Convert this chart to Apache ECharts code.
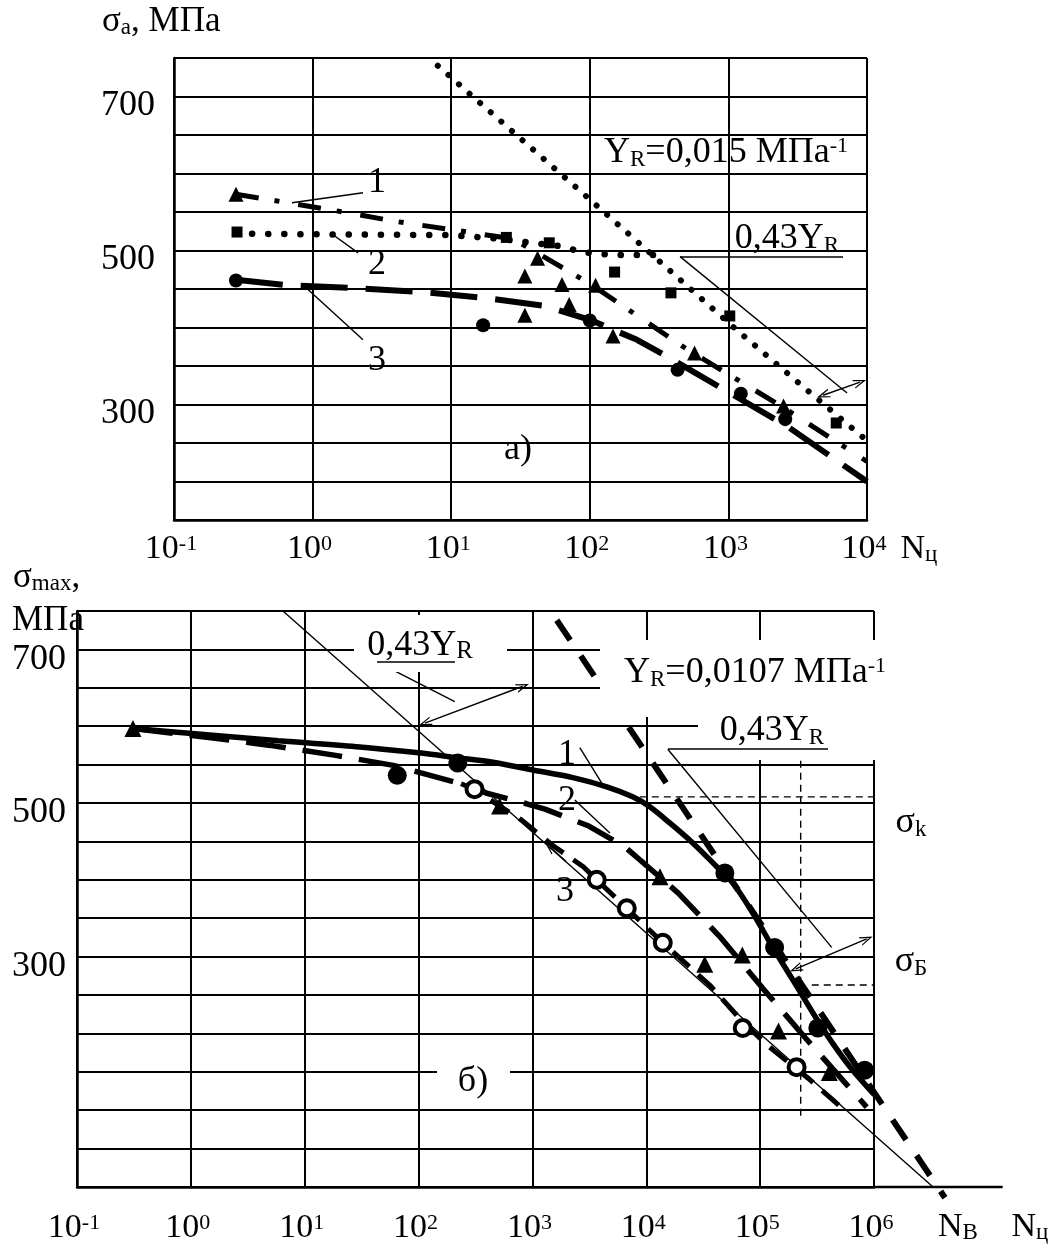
<!DOCTYPE html>
<html>
<head>
<meta charset="utf-8">
<script src="https://cdn.jsdelivr.net/npm/echarts@6/dist/echarts.min.js"></script>
<style>
  html, body { margin: 0; padding: 0; background: #fff; }
  #chart { width: 1058px; height: 1249px; }
</style>
</head>
<body>
<div id="chart"></div>
<script>
// Две панели: а) σa – Nц (до 10^4), б) σmax – Nц (до 10^6). Обе оси X логарифмические.
const FONT = '"Liberation Serif", "Times New Roman", serif';

// ---- панель а) ----
const aYLabels = [700, 500, 300];
const aTriangles = [[0.28, 573], [34, 467], [42, 490], [63, 456], [71, 430], [34, 416], [110, 455], [147, 389], [570, 367], [2500, 298]];
const aSquares = [[0.285, 524], [25, 517], [51, 510], [151, 472], [385, 445], [1023, 415], [6000, 276]];
const aCircles = [[0.28, 461], [17, 403], [100, 409], [430, 345], [1230, 314], [2570, 281]];
const aCurve1 = [[0.28, 573], [1.34, 553], [3.9, 538], [11, 526], [28, 515], [100, 457], [500, 372], [2500, 296], [10000, 226]];
const aCurve2 = [[0.28, 522], [1, 521], [10, 520], [23, 515], [38, 510], [66, 505], [85, 498], [150, 494], [290, 494]];
const aCurve3 = [[0.28, 462], [0.65, 455], [2.06, 451], [6.2, 446], [18.4, 438], [47.5, 428], [100, 410], [219, 384], [398, 358], [1023, 315], [2690, 271], [10000, 200]];
const aLineYR = [[8, 740], [105, 563], [1080, 401], [3570, 321], [10000, 253]];
const aLeaders = [
  [[2.31, 575], [0.71, 562]],
  [[2.13, 497], [1.34, 523]],
  [[0.93, 449], [2.31, 384]],
  [[448, 492], [7180, 315]]
];
const aArcs = [[[4820, 312], [8910, 329]]];

// ---- панель б) ----
const bYLabels = [700, 500, 300];
const bDots = [[65, 536], [221, 552], [49000, 409], [134000, 312], [321000, 207], [828000, 152]];
const bTriangles = [[0.31, 597], [515, 496], [13200, 404], [32600, 290], [69700, 302], [145000, 203], [405000, 149]];
const bRings = [[310, 518], [3670, 400], [6740, 363], [13960, 318], [70300, 207], [209000, 156]];
const bCurve1 = [[0.31, 597], [5.9, 581], [30.5, 573], [105, 565], [217, 559], [449, 553], [1008, 543], [2266, 533], [4500, 521], [7600, 508], [10740, 495], [16070, 474], [25600, 448], [41600, 417], [57400, 396], [86000, 357], [129000, 312], [193000, 270], [290000, 227], [434000, 187], [650000, 152], [1010000, 120]];
const bCurve2 = [[0.31, 597], [1.5, 585], [5, 575], [18.7, 562], [60, 549], [236, 525], [390, 513], [890, 499], [1290, 492], [3130, 470], [6470, 443], [19000, 383], [45500, 324], [105000, 259], [250000, 194], [863000, 104]];
const bCurve3 = [[236, 525], [310, 518], [515, 496], [800, 478], [1500, 445], [2800, 417], [3670, 400], [6740, 363], [13960, 318], [36000, 263], [70300, 215], [117000, 184], [262000, 142], [550000, 100]];
// линии, уходящие за 10^6 (до Nв), рисуются на вспомогательной сетке
const bLineYR = [[1637, 738], [4200000, -14]];
const bLine043 = [[6.44, 750], [3300000, 0]];
const bAxisExt = [[1000000, 0], [13500000, 0]];
const bSigmaK = [[8770, 508], [1000000, 508]];
const bSigmaB = [[284000, 263], [1000000, 263]];
const bVertical = [[227000, 555], [227000, 90]];
const bLeaders = [
  [[44, 683], [208, 632]],
  [[15450, 570], [425000, 312]],
  [[2606, 572], [4064, 526]],
  [[2355, 504], [4790, 461]]
];
const bArcs = [[[113.5, 604], [824, 652]], [[205600, 284], [863000, 323]]];
const bArrow3 = [[1963, 424], [1422, 443]];

const ARROW = 'path://M0,10 L5,0 L10,10 L8.6,10 L5,3 L1.4,10 Z';

const RICH = {
  sub: { fontSize: 23, fontFamily: FONT, fill: '#000', color: '#000', verticalAlign: 'bottom', lineHeight: 18 },
  sup: { fontSize: 22, fontFamily: FONT, fill: '#000', color: '#000', verticalAlign: 'top', lineHeight: 14 },
  sm: { fontSize: 25, fontFamily: FONT, fill: '#000', color: '#000', verticalAlign: 'bottom', lineHeight: 26 }
};

function line(g, data, width, type, cap, extra) {
  return Object.assign({
    type: 'line', xAxisIndex: g, yAxisIndex: g, data,
    symbol: 'none', showSymbol: false, clip: false, silent: true,
    lineStyle: { color: '#000', width, type, cap: cap || 'butt', opacity: 1 }, z: 3
  }, extra || {});
}

function logged(data) {
  return data.map(([x, y]) => [Math.log10(x), y]);
}

function marks(g, data, symbol, size, itemStyle) {
  return {
    type: 'scatter', xAxisIndex: g, yAxisIndex: g, data, symbol, symbolSize: size,
    silent: true, clip: false, z: 5,
    itemStyle: Object.assign({ color: '#000', opacity: 1 }, itemStyle || {})
  };
}

function markLines(g, segs, curveness, symbols) {
  return {
    type: 'line', xAxisIndex: g, yAxisIndex: g, data: [], silent: true,
    markLine: {
      silent: true, animation: false, symbol: symbols, symbolSize: [9, 13],
      label: { show: false }, emphasis: { disabled: true },
      itemStyle: { color: '#000' },
      lineStyle: { color: '#000', width: 1.4, type: 'solid', curveness, opacity: 1 },
      data: segs.map(s => [{ coord: s[0] }, { coord: s[1] }])
    }
  };
}

function pow10Label(v) {
  const e = Math.round(Math.log10(v));
  return '{m|10}{s|' + e + '}';
}

function xAxis(g, max, split, margin) {
  return {
    gridIndex: g, type: 'log', logBase: 10, min: 0.1, max, splitNumber: split,
    axisLine: { show: true, onZero: false, lineStyle: { color: '#000', width: 2.5 } },
    axisTick: { show: false },
    splitLine: { show: true, lineStyle: { color: '#000', width: 2 } },
    axisLabel: {
      formatter: pow10Label, margin, padding: [0, 6, 0, 0],
      showMinLabel: true, showMaxLabel: true, hideOverlap: false,
      rich: {
        m: { fontSize: 34, fontFamily: FONT, color: '#000', lineHeight: 32 },
        s: { fontSize: 22, fontFamily: FONT, color: '#000', verticalAlign: 'top', lineHeight: 16 }
      }
    }
  };
}

function yAxis(g, min, labels, margin, lh) {
  return {
    gridIndex: g, type: 'value', min, max: 750, interval: 50,
    axisLine: { show: true, lineStyle: { color: '#000', width: 2.5 } },
    axisTick: { show: false },
    splitLine: { show: true, lineStyle: { color: '#000', width: 2 } },
    axisLabel: {
      formatter: v => (labels.includes(v) ? String(v) : ''),
      fontSize: 36, fontFamily: FONT, color: '#000', margin,
      verticalAlign: 'top', lineHeight: lh
    }
  };
}

function txt(x, y, text, extra) {
  return {
    type: 'text', x, y, z: 80,
    style: Object.assign({
      text, fontSize: 36, fontFamily: FONT, fill: '#000',
      align: 'center', verticalAlign: 'middle', rich: RICH
    }, extra || {})
  };
}
function box(x, y, w, h) {
  return { type: 'rect', z: 60, shape: { x, y, width: w, height: h }, style: { fill: '#fff' } };
}
function rule(x1, y1, x2, y2) {
  return { type: 'line', z: 80, shape: { x1, y1, x2, y2 }, style: { stroke: '#000', lineWidth: 1.5 } };
}

const chart = echarts.init(document.getElementById('chart'), null, { renderer: 'canvas' });

// вспомогательная сетка: та же шкала, что и у панели б), но в единицах lg N и шире (до Nв)
const DEC_B = 797 / 7;
const extMax = 926 / DEC_B - 1;
const extYMin = -50;

const option = {
  animation: false,
  backgroundColor: '#fff',
  grid: [
    { left: 174, top: 58, width: 693, height: 462, containLabel: false, outerBoundsMode: 'none' },
    { left: 77, top: 611, width: 797, height: 576, containLabel: false, outerBoundsMode: 'none' },
    { left: 77, top: 611, width: 926, height: 576 * (750 - extYMin) / 750, containLabel: false, outerBoundsMode: 'none' }
  ],
  xAxis: [
    xAxis(0, 10000, 5, 13),
    xAxis(1, 1000000, 7, 25),
    { gridIndex: 2, type: 'value', min: -1, max: extMax, show: false }
  ],
  yAxis: [
    yAxis(0, 150, aYLabels, 19, 18),
    yAxis(1, 0, bYLabels, 11, 20),
    { gridIndex: 2, type: 'value', min: extYMin, max: 750, show: false }
  ],
  series: [
    // а)
    line(0, aCurve1, 5, [23, 16, 5, 19]),
    line(0, aCurve2, 6.5, [0.1, 16], 'round'),
    line(0, aCurve3, 6, [47, 18]),
    line(0, aLineYR, 6, [0.1, 14], 'round'),
    marks(0, aTriangles, 'triangle', 15),
    marks(0, aSquares, 'rect', 11),
    marks(0, aCircles, 'circle', 14),
    ...aLeaders.map(s => line(0, s, 1.4, 'solid')),
    markLines(0, aArcs, 0.3, [ARROW, ARROW]),
    // б)
    line(1, bCurve1, 5.5, 'solid', 'butt', { smooth: 0.3 }),
    line(1, bCurve2, 5.5, [40, 17]),
    line(1, bCurve3, 5, [22, 12]),
    line(2, logged(bLineYR), 6, [24, 19]),
    line(2, logged(bLine043), 1.4, 'solid'),
    line(2, logged(bAxisExt), 2.5, 'solid'),
    line(1, bSigmaK, 1.4, [7, 5]),
    line(1, bSigmaB, 1.4, [7, 5]),
    line(1, bVertical, 1.4, [7, 5]),
    marks(1, bDots, 'circle', 19),
    marks(1, bTriangles, 'triangle', 17),
    marks(1, bRings, 'circle', 16, { color: '#fff', borderColor: '#000', borderWidth: 4 }),
    ...bLeaders.map(s => line(1, s, 1.4, 'solid')),
    markLines(1, bArcs, 0.3, [ARROW, ARROW]),
    markLines(1, [bArrow3], 0, ['none', ARROW])
  ],
  graphic: {
    elements: [
      // а)
      txt(102, 22, 'σ{sub|a}, МПа', { align: 'left', fontSize: 35 }),
      txt(726, 153, 'Y{sub|R}=0,015 МПа{sup|-1}'),
      txt(787, 239, '0,43Y{sub|R}'),
      rule(680, 257, 843, 257),
      txt(377, 183, '1'),
      txt(377, 265, '2'),
      txt(377, 361, '3'),
      txt(518, 450, 'а)'),
      txt(919, 549, 'N{sub|ц}', { fontSize: 34 }),
      // б)
      txt(13, 578, 'σ{sub|max},', { align: 'left', fontSize: 35 }),
      txt(12, 621, 'МПа', { align: 'left', fontSize: 35 }),
      box(354, 615, 153, 57),
      txt(420, 646, '0,43Y{sm|R}'),
      rule(377, 662, 455, 662),
      box(600, 640, 290, 77),
      txt(755, 673, 'Y{sub|R}=0,0107 МПа{sup|-1}'),
      box(698, 717, 192, 43),
      txt(772, 731, '0,43Y{sub|R}'),
      rule(668, 749, 828, 749),
      txt(567, 755, '1'),
      txt(567, 801, '2'),
      txt(565, 892, '3'),
      txt(911, 823, 'σ{sub|k}'),
      txt(911, 962, 'σ{sub|Б}'),
      box(437, 1058, 73, 42),
      txt(473, 1082, 'б)'),
      txt(958, 1227, 'N{sub|В}', { fontSize: 34 }),
      txt(1030, 1227, 'N{sub|ц}', { fontSize: 34 })
    ]
  }
};

chart.setOption(option);
</script>
</body>
</html>
